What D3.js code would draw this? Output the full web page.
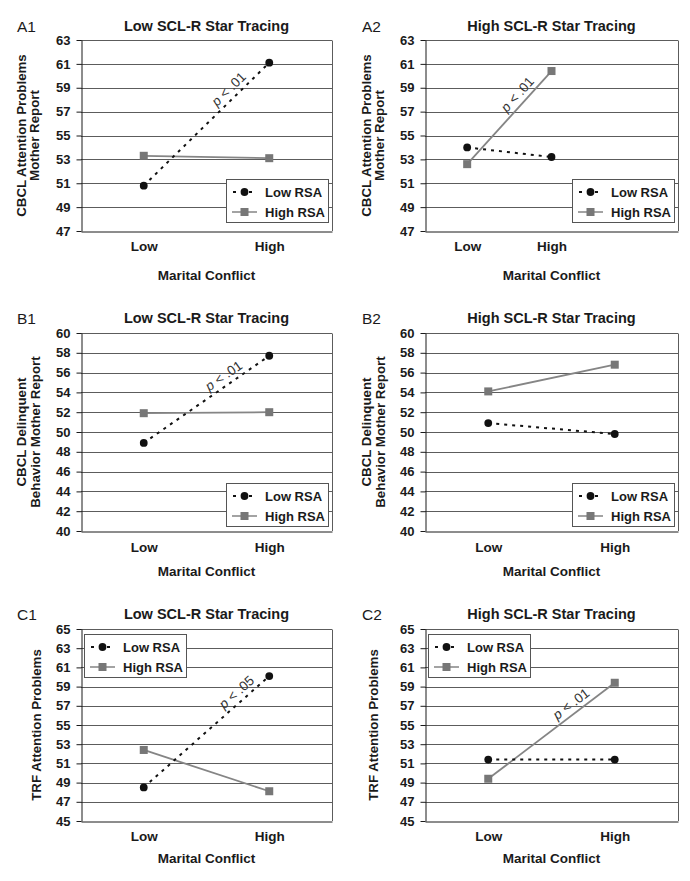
<!DOCTYPE html>
<html><head><meta charset="utf-8">
<script src="https://cdn.jsdelivr.net/npm/d3@7"></script>
<style>
body{margin:0;background:#fff}
text{font-family:"Liberation Sans",Arial,Helvetica,sans-serif}
</style>
</head><body>
<svg id="chart" width="690" height="881"></svg>
<script>
// ---------------- DATA ----------------
const panelIds = ["A1", "A2", "B1", "B2", "C1", "C2"];
const panelTitles = ["Low SCL-R Star Tracing", "High SCL-R Star Tracing",
                     "Low SCL-R Star Tracing", "High SCL-R Star Tracing",
                     "Low SCL-R Star Tracing", "High SCL-R Star Tracing"];
const yTitles = [
  ["CBCL Attention Problems", "Mother Report"],
  ["CBCL Attention Problems", "Mother Report"],
  ["CBCL Delinquent", "Behavior Mother Report"],
  ["CBCL Delinquent", "Behavior Mother Report"],
  ["TRF Attention Problems"],
  ["TRF Attention Problems"]
];
const categories = ["Low", "High"];
// A2 was plotted on a 3-slot category axis (third slot empty)
const xCategorySets = [
  ["Low", "High"], ["Low", "High", ""],
  ["Low", "High"], ["Low", "High"],
  ["Low", "High"], ["Low", "High"]
];
const xTitle = "Marital Conflict";
const seriesNames = ["Low RSA", "High RSA"];
const lowRSA  = [[50.8, 61.1], [54.0, 53.2], [48.9, 57.7], [50.9, 49.8], [48.5, 60.1], [51.4, 51.4]];
const highRSA = [[53.3, 53.1], [52.6, 60.4], [51.9, 52.0], [54.1, 56.8], [52.4, 48.1], [49.4, 59.4]];
const yTicksA = [47, 49, 51, 53, 55, 57, 59, 61, 63];
const yTicksB = [40, 42, 44, 46, 48, 50, 52, 54, 56, 58, 60];
const yTicksC = [45, 47, 49, 51, 53, 55, 57, 59, 61, 63, 65];
const yTickSets = [yTicksA, yTicksA, yTicksB, yTicksB, yTicksC, yTicksC];
// significance labels: panel index, series index (0 = Low RSA, 1 = High RSA), p text, position along line
const sigPanels = [0, 1, 2, 4, 5];
const sigSeries = [0, 1, 0, 0, 1];
const sigText   = [".01", ".01", ".01", ".05", ".01"];
const sigAlong  = [0.73, 0.68, 0.68, 0.79, 0.70];

// ---------------- LAYOUT ----------------
const cols = [{ox: 0, x0: 81, x1: 332}, {ox: 345, x0: 425, x1: 678}];
const rows = [
  {y0: 40,  y1: 231, titleY: 31,  tickY: 250, xTitleY: 280},
  {y0: 333, y1: 531, titleY: 323, tickY: 551, xTitleY: 576},
  {y0: 629, y1: 821, titleY: 619, tickY: 840, xTitleY: 863}
];
const yTitleX = [[26, 39], [26, 39], [26, 40], [26, 40], [41], [33]];
const legendW = 102, legendH = 43;
const legendPos = [ // corner placement
  {corner: "br", dx: 4, dy: 9}, {corner: "br", dx: 4, dy: 9},
  {corner: "br", dx: 4, dy: 5}, {corner: "br", dx: 4, dy: 5},
  {corner: "tl", dx: 3, dy: 5}, {corner: "tl", dx: 3, dy: 5}
];

const svg = d3.select("#chart");
const ink = "#1a1a1a";
const gridCol = "#5c5c5c";
const grayLine = "#858585";
const graySq = "#777777";

panelIds.forEach((id, i) => {
  const C = cols[i % 2], R = rows[Math.floor(i / 2)];
  const ticks = yTickSets[i];
  const y = d3.scaleLinear().domain([ticks[0], ticks[ticks.length - 1]]).range([R.y1, R.y0]);
  const x = d3.scalePoint().domain(xCategorySets[i]).range([C.x0, C.x1]).padding(0.5);
  const g = svg.append("g");

  // gridlines
  g.selectAll("line.grid").data(ticks.slice(1)).join("line")
    .attr("class", "grid")
    .attr("x1", C.x0).attr("x2", C.x1)
    .attr("y1", d => Math.round(y(d)) + 0.5).attr("y2", d => Math.round(y(d)) + 0.5)
    .attr("stroke", gridCol).attr("stroke-width", 1);
  // right border
  g.append("line").attr("x1", C.x1 + 0.5).attr("x2", C.x1 + 0.5)
    .attr("y1", Math.round(y(ticks[ticks.length - 1])) + 0.5).attr("y2", R.y1)
    .attr("stroke", gridCol);

  // y axis
  const ya = g.append("g").attr("transform", `translate(${C.x0 + 0.5},0)`)
    .call(d3.axisLeft(y).tickValues(ticks).tickSize(5).tickPadding(6).tickSizeOuter(0));
  ya.select(".domain").attr("stroke", ink);
  ya.selectAll(".tick line").attr("stroke", ink);
  ya.selectAll(".tick text").attr("font-size", 13).attr("font-weight", "bold")
    .attr("fill", ink).attr("font-family", '"Liberation Sans",Arial,sans-serif');

  // x axis
  const xa = g.append("g").attr("transform", `translate(0,${Math.round(R.y1) + 0.5})`)
    .call(d3.axisBottom(x).tickSize(0).tickSizeOuter(0));
  xa.select(".domain").attr("stroke", ink);
  xa.selectAll(".tick text").attr("y", R.tickY - R.y1).attr("dy", 0)
    .attr("font-size", 13.5).attr("font-weight", "bold").attr("fill", ink)
    .attr("font-family", '"Liberation Sans",Arial,sans-serif');

  // titles
  g.append("text").attr("x", C.ox + 17).attr("y", R.titleY + 1)
    .attr("font-size", 15.5).attr("fill", ink).text(id);
  g.append("text").attr("x", (C.x0 + C.x1) / 2).attr("y", R.titleY)
    .attr("text-anchor", "middle").attr("font-size", 14.5).attr("font-weight", "bold")
    .attr("fill", ink).text(panelTitles[i]);
  g.append("text").attr("x", (C.x0 + C.x1) / 2).attr("y", R.xTitleY)
    .attr("text-anchor", "middle").attr("font-size", 13.5).attr("font-weight", "bold")
    .attr("fill", ink).text(xTitle);
  const cy = (R.y0 + R.y1) / 2;
  yTitles[i].forEach((t, k) => {
    const bx = C.ox + yTitleX[i][k];
    g.append("text").attr("transform", `translate(${bx},${cy}) rotate(-90)`)
      .attr("text-anchor", "middle").attr("font-size", 13.3).attr("font-weight", "bold")
      .attr("fill", ink).text(t);
  });

  // series
  const line = d3.line().x((d, j) => x(categories[j])).y(d => y(d));
  g.append("path").datum(highRSA[i]).attr("d", line)
    .attr("fill", "none").attr("stroke", grayLine).attr("stroke-width", 1.8);
  g.append("path").datum(lowRSA[i]).attr("d", line)
    .attr("fill", "none").attr("stroke", "#111").attr("stroke-width", 2)
    .attr("stroke-dasharray", "3,5");
  g.selectAll("rect.sq").data(highRSA[i]).join("rect").attr("class", "sq")
    .attr("x", (d, j) => x(categories[j]) - 4).attr("y", d => y(d) - 4)
    .attr("width", 8).attr("height", 8).attr("fill", graySq);
  g.selectAll("circle.dot").data(lowRSA[i]).join("circle").attr("class", "dot")
    .attr("cx", (d, j) => x(categories[j])).attr("cy", d => y(d))
    .attr("r", 3.9).attr("fill", "#111");

  // significance label
  const si = sigPanels.indexOf(i);
  if (si >= 0) {
    const vals = sigSeries[si] === 0 ? lowRSA[i] : highRSA[i];
    const x0 = x(categories[0]), y0 = y(vals[0]), x1 = x(categories[1]), y1 = y(vals[1]);
    const ang = Math.atan2(y1 - y0, x1 - x0) * 180 / Math.PI;
    const t = sigAlong[si];
    const px = x0 + t * (x1 - x0), py = y0 + t * (y1 - y0);
    const st = g.append("text").attr("transform", `translate(${px},${py}) rotate(${ang})`)
      .attr("y", -5).attr("text-anchor", "middle").attr("font-size", 13.5).attr("fill", "#333");
    st.append("tspan").attr("font-style", "italic").text("p");
    st.append("tspan").text(" < " + sigText[si]);
  }

  // legend
  const lp = legendPos[i];
  const lx = lp.corner === "br" ? C.x1 - lp.dx - legendW : C.x0 + lp.dx;
  const ly = lp.corner === "br" ? R.y1 - lp.dy - legendH : R.y0 + lp.dy;
  const lg = g.append("g").attr("transform", `translate(${lx},${ly})`);
  lg.append("rect").attr("x", 0.5).attr("y", 0.5).attr("width", legendW).attr("height", legendH)
    .attr("fill", "#fff").attr("stroke", "#555").attr("stroke-width", 1);
  seriesNames.forEach((nm, k) => {
    const ry = k === 0 ? 13 : 33;
    if (k === 0) {
      lg.append("line").attr("x1", 6).attr("x2", 31).attr("y1", ry).attr("y2", ry)
        .attr("stroke", "#111").attr("stroke-width", 2).attr("stroke-dasharray", "3,5")
        .attr("stroke-dashoffset", -1);
      lg.append("circle").attr("cx", 18.5).attr("cy", ry).attr("r", 3.9).attr("fill", "#111");
    } else {
      lg.append("line").attr("x1", 6).attr("x2", 31).attr("y1", ry).attr("y2", ry)
        .attr("stroke", grayLine).attr("stroke-width", 1.5);
      lg.append("rect").attr("x", 14.5).attr("y", ry - 4).attr("width", 8).attr("height", 8)
        .attr("fill", graySq);
    }
    lg.append("text").attr("x", 39).attr("y", ry + 4.8)
      .attr("font-size", 13).attr("font-weight", "bold").attr("fill", ink).text(nm);
  });
});
</script>
</body></html>
